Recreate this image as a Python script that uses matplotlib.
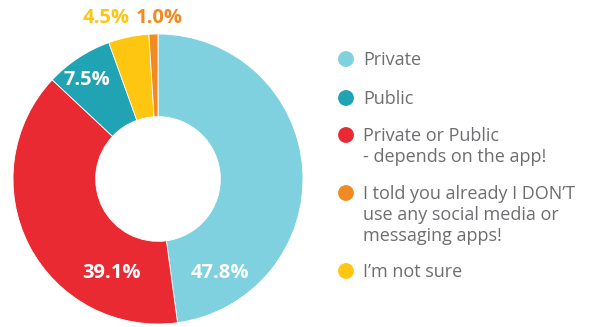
import matplotlib
matplotlib.use("Agg")
import matplotlib.pyplot as plt

# Data (clockwise from 12 o'clock)
labels = ["Private", "Private or Public\n- depends on the app!", "Public",
          "I\u2019m not sure", "I told you already I DON\u2019T\nuse any social media or\nmessaging apps!"]
values = [47.8, 39.1, 7.5, 4.5, 1.0]
colors = ["#7fd1e0", "#e92a33", "#20a3b3", "#fec611", "#f18a21"]

# legend order as in the reference
legend_order = [0, 2, 1, 4, 3]

W, H = 593, 327
fig = plt.figure(figsize=(W / 100, H / 100), dpi=100)

# pie axes: centre (158,179) px, radius 145 px
cx, cy, r = 158, 179, 145
ax = fig.add_axes([(cx - r) / W, (H - cy - r) / H, 2 * r / W, 2 * r / H])
ax.pie(values, colors=colors, startangle=90, counterclock=False,
       radius=1.0, wedgeprops=dict(width=0.57, edgecolor="white", linewidth=0.6))
ax.set_xlim(-1, 1)
ax.set_ylim(-1, 1)
ax.set_aspect("equal")
ax.axis("off")

# percentage labels (positions in pie units)
lab_pos = [(0.43, -0.65), (-0.32, -0.65), (-0.49, 0.68), (-0.36, 1.11), (0.01, 1.11)]
lab_col = ["white", "white", "white", colors[3], colors[4]]
for v, (x, y), c in zip(values, lab_pos, lab_col):
    ax.text(x, y, f"{v:.1f}%", color=c, fontsize=14.5, fontweight="bold",
            family="Open Sans", ha="center", va="center", clip_on=False)

# legend drawn in pixel coordinates
lax = fig.add_axes([0, 0, 1, 1])
lax.set_xlim(0, W)
lax.set_ylim(H, 0)
lax.axis("off")
leg_y = [59, 98, 135, 193, 271]
for i, y in zip(legend_order, leg_y):
    lax.scatter([346], [y], s=130, color=colors[i], edgecolors="none")
    lax.text(363, y - 8, labels[i], color="#6d6e71", fontsize=13, family="Open Sans",
             ha="left", va="top", linespacing=1.2)

fig.savefig("out.png", dpi=100, facecolor="white")
